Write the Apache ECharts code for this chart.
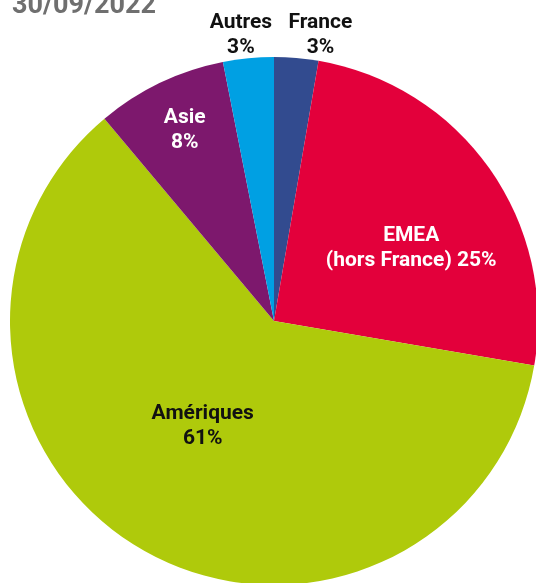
<!DOCTYPE html>
<html>
<head>
<meta charset="utf-8">
<script src="https://cdn.jsdelivr.net/npm/echarts@6/dist/echarts.min.js"></script>
<style>
html,body{margin:0;padding:0;background:#fff;}
#c{width:536px;height:583px;}
</style>
</head>
<body>
<div id="c"></div>
<script>
const titleText = '30/09/2022';
const categories = ['France', 'EMEA\n(hors France)', 'Amériques', 'Asie', 'Autres'];
const values = [2.7, 25.0, 61.2, 8.0, 3.1];
const colors = ['#324b8f', '#e3003b', '#afca0b', '#7d186d', '#00a0e3'];
const labelColors = ['#111111', '#ffffff', '#111111', '#ffffff', '#111111'];
const labelOffsets = [[35, -151], [27, 5], [-4, -12], [-31, -69], [-20, -151]];

const chart = echarts.init(document.getElementById('c'), null, {renderer: 'canvas'});
chart.setOption({
  animation: false,
  backgroundColor: '#ffffff',
  title: {
    text: titleText,
    left: 7,
    top: -12,
    textStyle: {fontFamily: 'Roboto', fontWeight: 'bold', fontSize: 27, color: '#6f6f6f'}
  },
  series: [{
    type: 'pie',
    center: [274, 321],
    radius: [0, 264],
    startAngle: 90,
    clockwise: true,
    avoidLabelOverlap: false,
    emphasis: {disabled: true},
    itemStyle: {borderWidth: 0},
    labelLine: {show: false},
    label: {
      show: true,
      position: 'inside',
      fontFamily: 'Roboto',
      fontWeight: 'bold',
      fontSize: 21,
      lineHeight: 25,
      align: 'center',
      formatter: function (p) {
        const sep = p.name.indexOf('\n') >= 0 ? ' ' : '\n';
        return p.name + sep + Math.round(p.value) + '%';
      }
    },
    data: categories.map(function (name, i) {
      return {
        name: name,
        value: values[i],
        itemStyle: {color: colors[i]},
        label: {color: labelColors[i], offset: labelOffsets[i]}
      };
    })
  }]
});
</script>
</body>
</html>
